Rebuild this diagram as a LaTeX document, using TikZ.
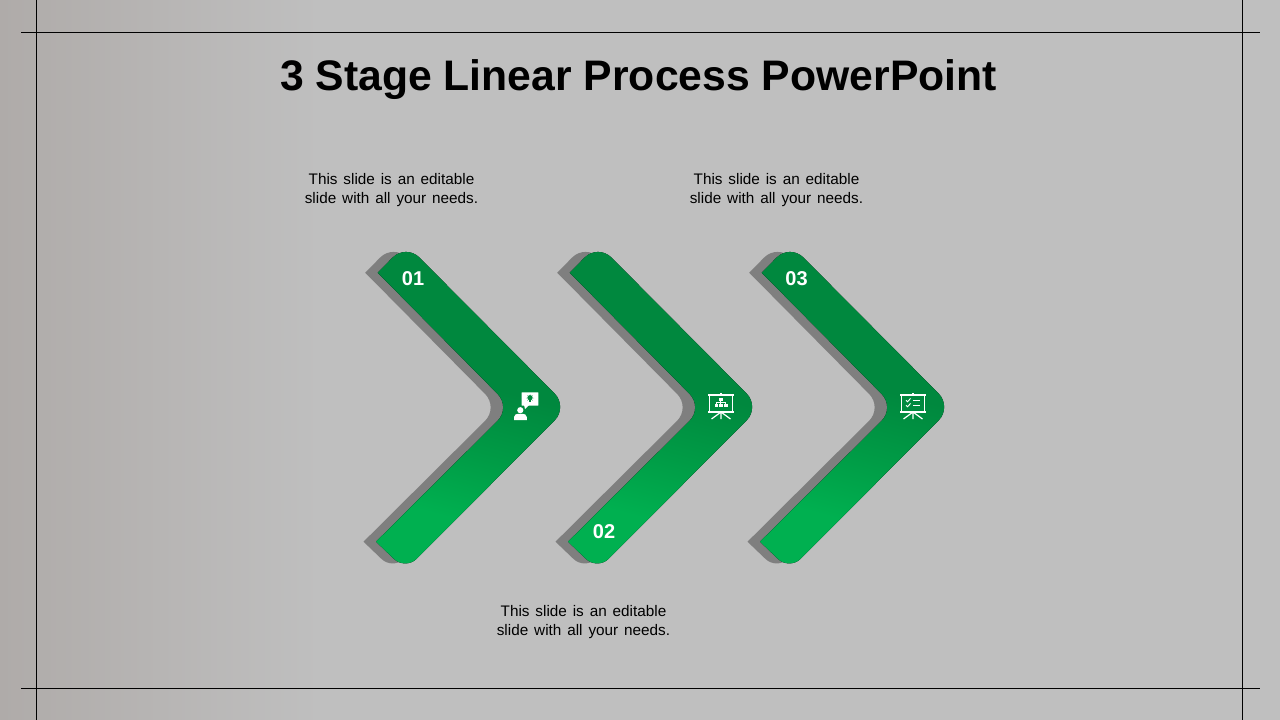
\documentclass[tikz,border=0pt]{standalone}
\usepackage{fontspec}
\setmainfont{Liberation Sans}
\newfontfamily\captionfamily[WordSpace=1.39]{Liberation Sans}
\usepackage{tikz}
\usetikzlibrary{positioning}
\definecolor{darkgreen}{HTML}{00883E}
\definecolor{lightgreen}{HTML}{00B050}
\definecolor{midgreen}{HTML}{009C46}
\definecolor{slidegray}{HTML}{BFBFBF}
\definecolor{slideleft}{HTML}{AFABA9}
\definecolor{shadowgray}{HTML}{7F7F7F}
\pgfdeclareverticalshading{chevronshade}{100bp}{
    color(0bp)=(lightgreen); color(31bp)=(lightgreen); color(42bp)=(midgreen);
    color(54bp)=(darkgreen); color(100bp)=(darkgreen)}
\tikzset{
    %Define style for texts
    title/.style={
           font=\fontsize{42.7}{50}\selectfont\bfseries,
           text=black,
           },
    caption/.style={
           font=\captionfamily\fontsize{15.3}{19}\selectfont,
           align=center,
           text=black,
           },
    stage/.style={
           font=\fontsize{20}{24}\selectfont\bfseries,
           text=white,
           },
    % Define style for frame lines
    frame/.style={
           draw=black, line width=0.8pt,
           },
    % Define style for chevrons
    greenchevron/.style={
           shading=chevronshade, shading angle=-15,
           },
    % Define style for icons
    iconline/.style={
           draw=white, line width=1.4pt,
           },
    iconthin/.style={
           draw=white, line width=1.2pt,
           },
    %Define board icon
    board/.pic={
           \draw[iconline] (-13,-13) -- (13,-13);
           \draw[iconline] (-11.5,-13) -- (-11.5,4) -- (11.5,4) -- (11.5,-13);
           \draw[iconline] (-13,4) -- (13,4);
           \draw[iconline] (0,-15) -- (0,-13);
           \draw[iconthin] (0,4) -- (0,11) (0,4) -- (-9.5,11) (0,4) -- (9.5,11);
           },
}
\newcommand{\chevronpath}{
    (377.7,272.7) [rounded corners=19pt] -- (406,244) -- (568,407) [rounded corners=16pt]
    -- (405.5,570) [sharp corners] -- (376,541.7) [rounded corners=19pt]
    -- (511,407.5) [sharp corners] -- cycle
}
\begin{document}
\begin{tikzpicture}[x=1pt,y=-1pt]
\useasboundingbox (0,0) rectangle (1280,720);

 %background
\fill[slidegray] (0,0) rectangle (1280,720);
\fill[left color=slideleft, right color=slidegray] (0,0) rectangle (320,720);

 %frame
\draw[frame] (21,32.5) -- (1260,32.5);
\draw[frame] (21,688.5) -- (1260,688.5);
\draw[frame] (36.5,0) -- (36.5,720);
\draw[frame] (1242.5,0) -- (1242.5,720);

 %chevrons
\foreach \shiftx in {0,192,384}{
  \begin{scope}[xshift=\shiftx pt]
    \fill[shadowgray, xshift=-12.5pt] \chevronpath;
    \fill[greenchevron] \chevronpath;
  \end{scope}
}

 %texts
\node[title](heading) at (638.5,79.5){3 Stage Linear Process PowerPoint};
\node[caption](text1) at (391.5,190){This slide is an editable\\slide with all your needs.};
\node[caption](text2) at (583.5,622){This slide is an editable\\slide with all your needs.};
\node[caption](text3) at (776.5,190){This slide is an editable\\slide with all your needs.};
\node[stage](num1) at (413,279){01};
\node[stage](num2) at (604,532){02};
\node[stage](num3) at (796.5,279){03};

 %icon person
\fill[white, rounded corners=0.5pt] (521.5,392.3) rectangle (538.3,405.7);
\fill[white] (524,405) -- (529,405) -- (525,409) -- cycle;
\draw[darkgreen!45!white, line width=0.5pt] (526,398) -- (534,398) (530,394) -- (530,402) (527.2,395.2) -- (532.8,400.8) (527.2,400.8) -- (532.8,395.2);
\fill[darkgreen] (530,397.7) circle (2.6);
\fill[darkgreen] (528.9,399) rectangle (531.1,402);
\fill[white] (520.3,410.2) circle (3.1);
\fill[white] (514,420.2) -- (514,417) .. controls (514,414.5) and (516,413.8) .. (520.4,413.8)
    .. controls (524.8,413.8) and (526.8,414.5) .. (526.8,417) -- (526.8,420.2) -- cycle;

 %icon org chart
\pic at (721,408) {board};
\fill[white] (718.5,397.5) rectangle (722.5,400.5);
\fill[white] (714.5,404) rectangle (718,407);
\fill[white] (719,404) rectangle (722.5,407);
\fill[white] (724,404) rectangle (727.5,407);
\draw[white, line width=0.6pt] (720.5,400.5) -- (720.5,404) (716.2,404) -- (716.2,402.3) -- (725.7,402.3) -- (725.7,404);

 %icon checklist
\pic at (913,408) {board};
\draw[white, line width=0.9pt] (906,400.3) -- (907.5,401.8) -- (910.5,398.5);
\draw[white, line width=0.9pt] (906,405.3) -- (907.5,406.8) -- (910.5,403.5);
\draw[white, line width=1.1pt] (913,400.5) -- (919.5,400.5);
\draw[white, line width=1.1pt] (913,405.5) -- (919.5,405.5);

\end{tikzpicture}
\end{document}
